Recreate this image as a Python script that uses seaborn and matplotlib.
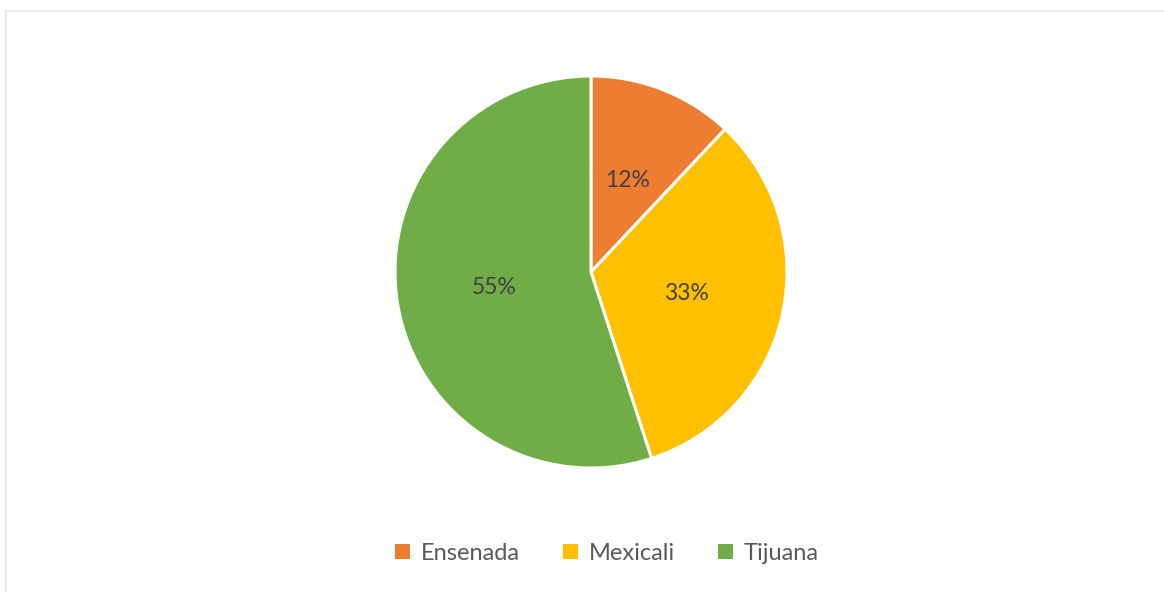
import matplotlib
matplotlib.use("Agg")
import matplotlib.pyplot as plt
from matplotlib.lines import Line2D
from matplotlib.patches import Patch
import seaborn as sns

cities = ["Ensenada", "Mexicali", "Tijuana"]
shares = [12, 33, 55]
colors = ["#ED7D31", "#FFC000", "#70AD47"]

sns.set_theme(style="white")
plt.rcParams["font.family"] = ["Lato", "DejaVu Sans"]

W, H = 1164, 592
fig = plt.figure(figsize=(W / 100, H / 100), dpi=100)
fig.patch.set_facecolor("white")

# light frame along the top and left edges
fig.add_artist(Line2D([6 / W, 1], [1 - 10.5 / H, 1 - 10.5 / H],
                      transform=fig.transFigure, color="#ececec", lw=1.5))
fig.add_artist(Line2D([6 / W, 6 / W], [0, 1 - 10.5 / H],
                      transform=fig.transFigure, color="#ececec", lw=1.5))

cx, cy, r = 591, 272, 196
ax = fig.add_axes([(cx - r) / W, (H - cy - r) / H, 2 * r / W, 2 * r / H])
wedges, texts, autotexts = ax.pie(
    shares,
    colors=colors,
    startangle=90,
    counterclock=False,
    autopct=lambda p: f"{p:.0f}%",
    pctdistance=0.5,
    wedgeprops=dict(edgecolor="white", linewidth=2.2),
    textprops=dict(fontsize=16.5, color="#404040"),
)
ax.set_xlim(-1, 1)
ax.set_ylim(-1, 1)
ax.set_aspect("equal")
ax.axis("off")

handles = [Patch(facecolor=c, edgecolor="none") for c in colors]
fig.legend(handles, cities, loc="center", bbox_to_anchor=(607 / W, 1 - 553 / H),
           ncol=3, frameon=False, fontsize=17, labelcolor="#595959",
           handlelength=0.62, handleheight=0.62, handletextpad=0.45,
           columnspacing=1.85)

fig.savefig("out.png", dpi=100, facecolor="white")
